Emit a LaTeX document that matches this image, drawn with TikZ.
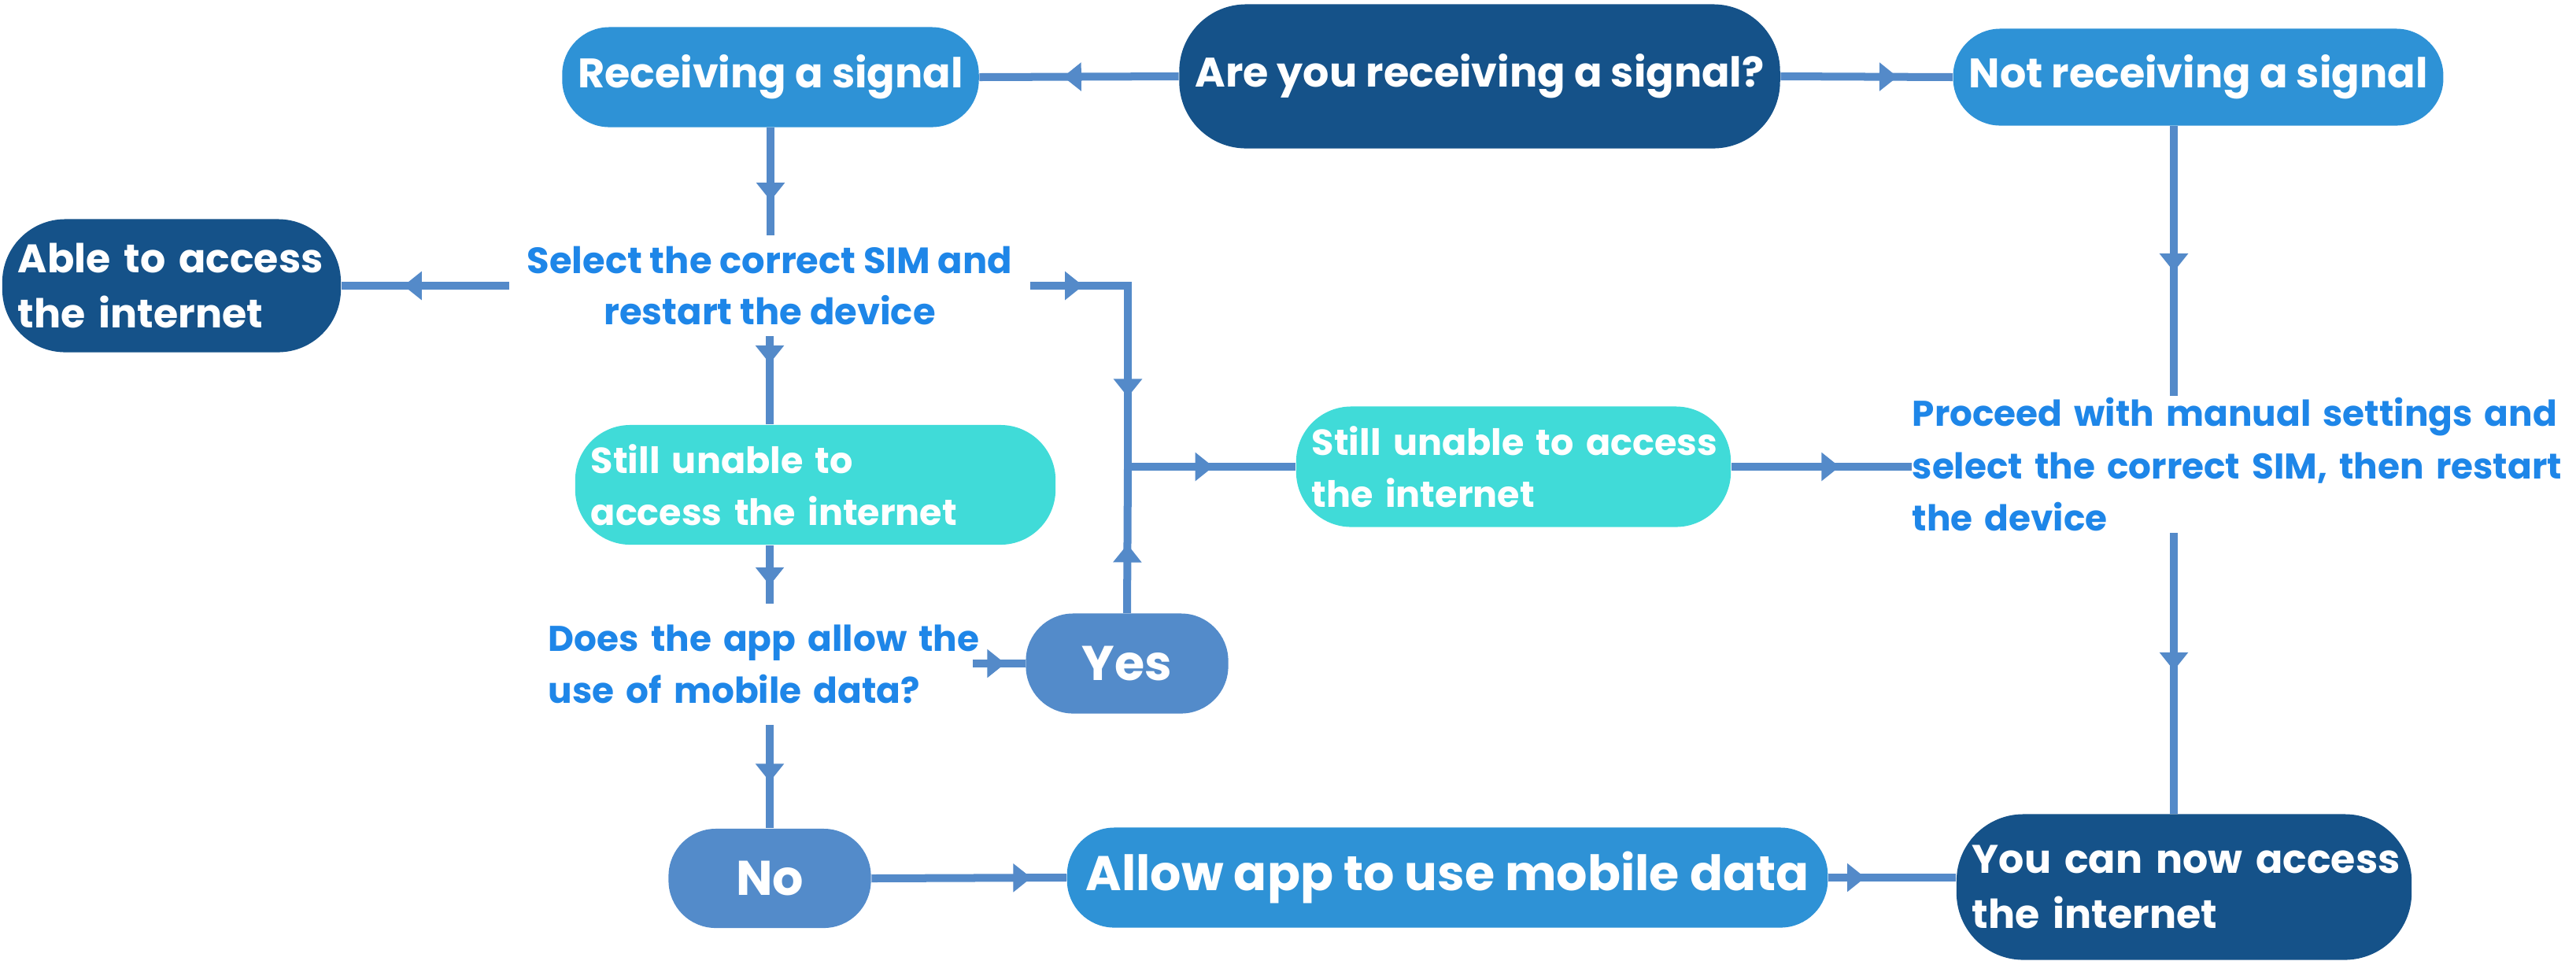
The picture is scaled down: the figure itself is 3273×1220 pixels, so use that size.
\documentclass[tikz,border=0pt]{standalone}
\usepackage{fontspec}
\setmainfont{Poppins}
\usetikzlibrary{positioning,arrows.meta,decorations.markings}

\definecolor{navyblue}{HTML}{155289}
\definecolor{midblue}{HTML}{2E92D6}
\definecolor{aqua}{HTML}{40DBD8}
\definecolor{steelblue}{HTML}{538BCA}
\definecolor{linkblue}{HTML}{548AC9}
\definecolor{textblue}{HTML}{1E86E8}

\newcommand\nohyph{\hyphenpenalty=10000\exhyphenpenalty=10000}
\newcommand\pillfont{\fontsize{14.9}{20}\selectfont\bfseries\nohyph}
\newcommand\twolinefont{\fontsize{14.4}{20}\selectfont\bfseries\nohyph}
\newcommand\bigpillfont{\fontsize{17.6}{20}\selectfont\bfseries}
\newcommand\aquafont{\fontsize{13.1}{18.8}\selectfont\bfseries\nohyph}
\newcommand\notefont{\fontsize{13.2}{18.5}\selectfont\bfseries\nohyph}
\newcommand\smallnotefont{\fontsize{12.9}{18.8}\selectfont\bfseries\nohyph}

\tikzset{
  pill/.style={rectangle, inner ysep=0pt, inner xsep=0.2cm, text=white, font=\pillfont},
  navypill/.style={pill, fill=navyblue},
  bluepill/.style={pill, fill=midblue},
  aquapill/.style={pill, fill=aqua, font=\aquafont, align=left},
  steelpill/.style={pill, fill=steelblue, font=\bigpillfont},
  note/.style={inner sep=0pt, text=textblue, font=\notefont},
  midtip/.style={postaction={decorate, decoration={markings,
      mark=at position #1 with {\arrow{Triangle[length=0.23cm,width=0.35cm]}}}}},
  flow/.style={color=linkblue, line width=0.1cm, midtip=#1},
  flow/.default=0.6
}

\begin{document}
\begin{tikzpicture}[x=0.01cm, y=-0.01cm]
    \useasboundingbox (0,0) rectangle (3273,1220);

    % top row
    \node[navypill, minimum width=7.63cm, minimum height=1.83cm, rounded corners=0.85cm] (ask) at (1880,97) {Are you receiving a signal?};
    \node[bluepill, minimum width=5.22cm, minimum height=1.27cm, rounded corners=0.6cm] (rec) at (979,98) {Receiving a signal};
    \node[bluepill, minimum width=6.13cm, minimum height=1.23cm, rounded corners=0.6cm] (norec) at (2793,98) {Not receiving a signal};

    % left column
    \node[navypill, font=\twolinefont, text width=3.9cm, minimum height=1.69cm, rounded corners=0.8cm, align=left] (able) at (218,363) {Able~to~access\\the~internet};
    \node[note, minimum width=6.6cm, minimum height=1.27cm, align=center] (sel) at (978,363) {Select~the~correct~SIM~and\\restart~the~device};
    \node[aquapill, text width=5.7cm, minimum height=1.52cm, rounded corners=0.7cm] (still) at (1036,616) {Still~unable~to\\access~the~internet};
    \node[note, font=\smallnotefont, text width=5.38cm, minimum height=1.53cm, align=left] (app) at (966,844) {Does~the~app~allow~the\\use~of~mobile~data?};
    \node[steelpill, minimum width=2.57cm, minimum height=1.27cm, rounded corners=0.6cm] (yes) at (1432,843) {Yes};
    \node[steelpill, minimum width=2.57cm, minimum height=1.26cm, rounded corners=0.6cm] (no) at (978,1116) {No};

    % bottom and right
    \node[bluepill, font=\bigpillfont, minimum width=9.66cm, minimum height=1.27cm, rounded corners=0.6cm] (allow) at (1839,1115) {Allow app to use mobile data};
    \node[navypill, font=\twolinefont, text width=5.38cm, minimum height=1.85cm, rounded corners=0.85cm, align=left] (now) at (2775,1127) {You~can~now~access\\the~internet};
    \node[aquapill, text width=5.12cm, minimum height=1.53cm, rounded corners=0.7cm] (still2) at (1923,593) {Still~unable~to~access\\the~internet};
    \node[note, font=\smallnotefont, text width=8.4cm, minimum height=1.73cm, align=left, anchor=west] (proc) at (2429,590) {Proceed~with~manual~settings~and\\select~the~correct~SIM,~then~restart\\the~device};

    \coordinate (split) at (1433,593);
    \coordinate (bend) at (split |- sel.east);
    \coordinate (trunk) at (2762,0);

    % connectors
    \draw[flow=0.58] (ask.west) -- (rec.east);
    \draw[flow=0.68] (ask.east) -- (norec.west);
    \draw[flow=0.68] (rec.south) -- (rec.south |- sel.north);
    \draw[flow=0.63] (sel.west) -- (able.east);
    \draw[flow=0.31] (sel.south) -- (sel.south |- still.north);
    \draw[flow=0.69] (sel.south |- still.south) -- (sel.south |- app.north);
    \draw[flow=0.55] (sel.south |- app.south) -- (no.north);
    \draw[flow=0.62] (app.east |- yes.west) -- (yes.west);
    \draw[flow=0.82] (no.east) -- (allow.west);
    \draw[flow=0.29] (allow.east) -- (now.west |- allow.east);
    \draw[flow=0.19, midtip=0.75] (sel.east) -- (bend) -- (split);
    \draw[flow=0.47] (yes.north) -- (split);
    \draw[flow=0.51] (split) -- (still2.west);
    \draw[flow=0.6] (still2.east) -- (proc.west |- still2.east);
    \draw[flow=0.54] (trunk |- norec.south) -- (trunk |- proc.north);
    \draw[flow=0.49] (trunk |- proc.south) -- (trunk |- now.north);
\end{tikzpicture}
\end{document}
